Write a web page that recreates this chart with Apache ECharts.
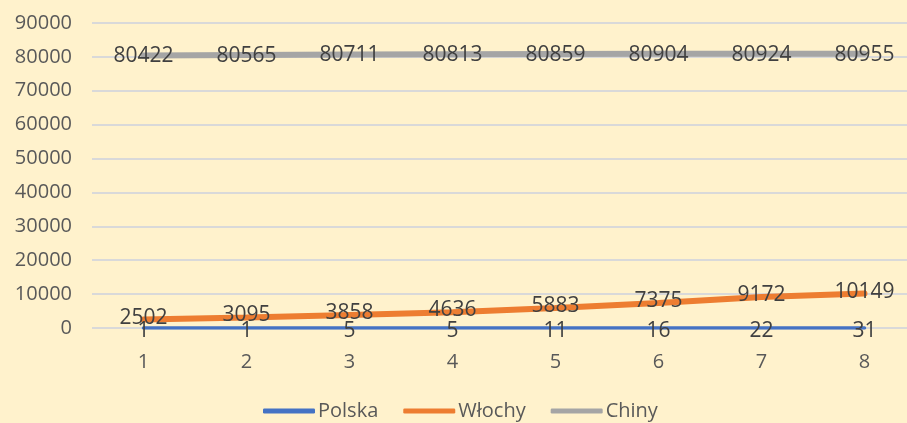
<!DOCTYPE html>
<html>
<head>
<meta charset="utf-8">
<script src="https://cdn.jsdelivr.net/npm/echarts@6/dist/echarts.min.js"></script>
<style>
  html, body { margin: 0; padding: 0; background: #FFF2CC; overflow: hidden; }
  #chart { width: 930px; height: 423px; }
</style>
</head>
<body>
<div id="chart"></div>
<script>
const categories = ["1", "2", "3", "4", "5", "6", "7", "8"];
const polska = [1, 1, 5, 5, 11, 16, 22, 31];
const wlochy = [2502, 3095, 3858, 4636, 5883, 7375, 9172, 10149];
const chiny = [80422, 80565, 80711, 80813, 80859, 80904, 80924, 80955];

const FONT = "'Open Sans', 'Noto Sans', sans-serif";

function lineSeries(name, data, color, width, offsetY) {
  return {
    name: name,
    type: "line",
    data: data,
    symbol: "circle",
    symbolSize: 0,
    showSymbol: true,
    lineStyle: { color: color, width: width, cap: "round" },
    itemStyle: { color: color },
    label: {
      show: true,
      position: "inside",
      offset: [0, offsetY],
      color: "#404040",
      fontFamily: FONT,
      fontSize: 21
    }
  };
}

// the plot runs past the right edge of the 907px window, like the original
const chart = echarts.init(document.getElementById("chart"));
chart.setOption({
  backgroundColor: "#FFF2CC",
  animation: false,
  grid: { left: 92, right: 14, top: 23, bottom: 95 },
  legend: {
    bottom: -3,
    left: 258,
    itemWidth: 52,
    itemHeight: 5,
    itemGap: 25,
    icon: "roundRect",
    textStyle: { color: "#595959", fontFamily: FONT, fontSize: 20, padding: [0, 0, 0, -2] },
    data: ["Polska", "Włochy", "Chiny"]
  },
  xAxis: {
    type: "category",
    data: categories,
    boundaryGap: true,
    axisLine: { show: false },
    axisTick: { show: false },
    axisLabel: { color: "#595959", fontFamily: FONT, fontSize: 20, margin: 24 }
  },
  yAxis: {
    type: "value",
    min: 0,
    max: 90000,
    interval: 10000,
    axisLine: { show: false },
    axisTick: { show: false },
    axisLabel: {
      color: "#595959", fontFamily: FONT, fontSize: 20, margin: 20,
      formatter: function (v) { return String(v); }
    },
    splitLine: { lineStyle: { color: "#D9D9D9", width: 2 } }
  },
  series: [
    lineSeries("Polska", polska, "#4472C4", 3.5, 3),
    lineSeries("Włochy", wlochy, "#ED7D31", 6, -2),
    lineSeries("Chiny", chiny, "#A5A5A5", 6, 1)
  ]
});
</script>
</body>
</html>
